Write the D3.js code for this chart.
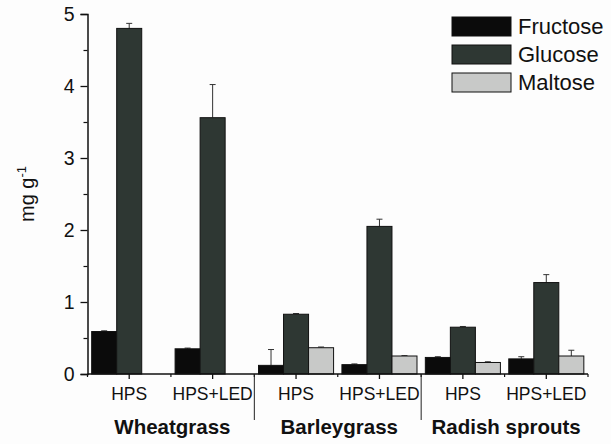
<!DOCTYPE html>
<html><head><meta charset="utf-8">
<script src="https://cdn.jsdelivr.net/npm/d3@7"></script>
<style>body{margin:0;background:#fdfdfd}svg{display:block}text{font-family:"Liberation Sans",Arial,sans-serif;fill:#111}</style>
</head><body>
<script>
const groups = ["Wheatgrass", "Barleygrass", "Radish sprouts"];
const treatments = ["HPS", "HPS+LED"];
const categories = ["Wheatgrass|HPS","Wheatgrass|HPS+LED","Barleygrass|HPS","Barleygrass|HPS+LED","Radish sprouts|HPS","Radish sprouts|HPS+LED"];
const series = ["Fructose", "Glucose", "Maltose"];
const fructose = [0.59, 0.35, 0.12, 0.13, 0.23, 0.21];
const glucose  = [4.80, 3.56, 0.83, 2.05, 0.65, 1.27];
const maltose  = [0, 0, 0.365, 0.25, 0.16, 0.25];
const fructoseErr = [0.01, 0.01, 0.22, 0.01, 0.01, 0.03];
const glucoseErr  = [0.07, 0.46, 0.01, 0.10, 0.01, 0.11];
const maltoseErr  = [0, 0, 0.01, 0.005, 0.01, 0.08];
const yTicks = [0, 1, 2, 3, 4, 5];

const values = [fructose, glucose, maltose];
const errs = [fructoseErr, glucoseErr, maltoseErr];
const colors = ["#0b0b0b", "#2e3733", "#c8c9c8"];

const W = 611, H = 444;
const svg = d3.select("body").append("svg").attr("width", W).attr("height", H);

const x0 = d3.scaleBand().domain(categories).range([87.5, 588]).paddingInner(0.1).paddingOuter(0.05);
const x1 = d3.scaleBand().domain(series).range([0, x0.bandwidth()]);
const y = d3.scaleLinear().domain([0, 5]).range([374, 14]);

// bars
series.forEach((s, si) => {
  const g = svg.append("g");
  categories.forEach((c, ci) => {
    const v = values[si][ci];
    if (v <= 0) return;
    const bx = x0(c) + x1(s);
    const e = errs[si][ci];
    g.append("line").attr("x1", bx + x1.bandwidth()/2).attr("x2", bx + x1.bandwidth()/2)
      .attr("y1", y(v)).attr("y2", y(v + e)).attr("stroke", "#333").attr("stroke-width", 1);
    g.append("line").attr("x1", bx + x1.bandwidth()/2 - 3).attr("x2", bx + x1.bandwidth()/2 + 3)
      .attr("y1", y(v + e)).attr("y2", y(v + e)).attr("stroke", "#333").attr("stroke-width", 1);
    g.append("rect").attr("x", bx).attr("y", y(v)).attr("width", x1.bandwidth())
      .attr("height", y(0) - y(v)).attr("fill", colors[si]).attr("stroke", "#111").attr("stroke-width", 1);
  });
});

// y axis
const yAxis = d3.axisLeft(y).tickValues(yTicks).tickFormat(d3.format("d")).tickSize(7).tickPadding(6);
const ya = svg.append("g").attr("transform", "translate(87.5,0)").call(yAxis);
ya.select(".domain").attr("stroke", "#111").attr("stroke-width", 1.5);
ya.selectAll(".tick line").attr("stroke", "#111").attr("stroke-width", 1.3);
ya.selectAll(".tick text").style("font-size", "19.5px").attr("fill", "#111");
const yMinor = d3.axisLeft(y).tickValues([0.5,1.5,2.5,3.5,4.5]).tickFormat("").tickSize(4);
const ym = svg.append("g").attr("transform", "translate(87.5,0)").call(yMinor);
ym.select(".domain").remove();
ym.selectAll(".tick line").attr("stroke", "#111").attr("stroke-width", 1.2);

// x axis
const xa = svg.append("g").attr("transform", "translate(0,374)");
xa.append("line").attr("x1", 87.5).attr("x2", 588).attr("stroke", "#111").attr("stroke-width", 1.5);
categories.forEach((c, ci) => {
  const cx = x0(c) + x0.bandwidth()/2;
  xa.append("line").attr("x1", cx).attr("x2", cx).attr("y1", 0).attr("y2", 5).attr("stroke", "#111").attr("stroke-width", 1.3);
  xa.append("text").attr("x", cx).attr("y", 26).attr("text-anchor", "middle").style("font-size", "17.5px")
    .text(c.split("|")[1]);
});
const step = x0.step();
d3.range(0, 7).forEach(i => {
  const bx = x0(categories[0]) - x0.paddingOuter() * step + i * step;
  xa.append("line").attr("x1", bx).attr("x2", bx).attr("y1", 0).attr("y2", 3).attr("stroke", "#111").attr("stroke-width", 1.2);
});
[2, 4].forEach(i => {
  const bx = x0(categories[0]) - x0.paddingOuter() * step + i * step;
  xa.append("line").attr("x1", bx).attr("x2", bx).attr("y1", 0).attr("y2", 46).attr("stroke", "#222").attr("stroke-width", 1);
});
groups.forEach((gname, gi) => {
  const a = x0(categories[gi*2]), b = x0(categories[gi*2+1]) + x0.bandwidth();
  xa.append("text").attr("x", (a + b)/2 + 1.5).attr("y", 60).attr("text-anchor", "middle")
    .style("font-size", "20.5px").style("font-weight", "bold").text(gname);
});

// y label
const yl = svg.append("text").attr("transform", "translate(34,194) rotate(-90)").attr("text-anchor", "middle").style("font-size", "20px");
yl.append("tspan").text("mg g");
yl.append("tspan").attr("dy", -8).style("font-size", "13px").text("-1");

// legend
const lg = svg.append("g").attr("transform", "translate(452,17)");
series.forEach((s, i) => {
  lg.append("rect").attr("x", 0).attr("y", i*28).attr("width", 59).attr("height", 19)
    .attr("fill", colors[i]).attr("stroke", "#111").attr("stroke-width", 1);
  lg.append("text").attr("x", 66).attr("y", i*28 + 17).style("font-size", "22px").text(s);
});
</script>
</body></html>
